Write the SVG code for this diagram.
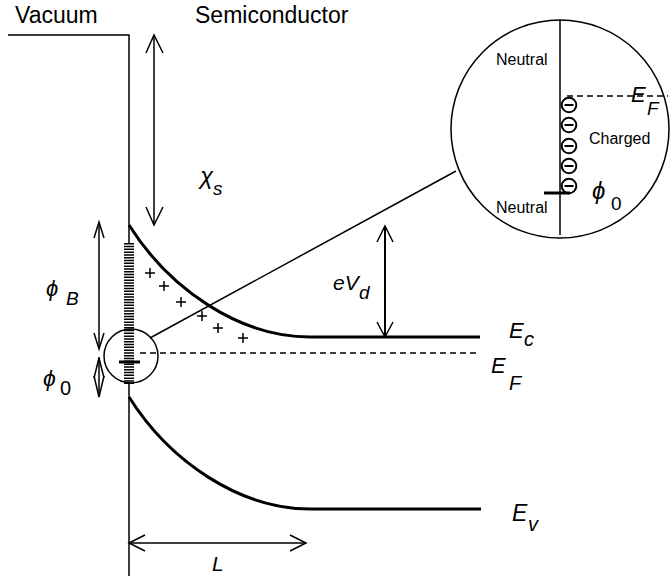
<svg xmlns="http://www.w3.org/2000/svg" width="670" height="576" viewBox="0 0 670 576">
<style>
.t{font-family:"Liberation Sans",Arial,sans-serif;fill:#000}
.g{font-family:"Liberation Sans","DejaVu Sans",sans-serif;font-style:italic;fill:#000}
.i{font-style:italic}
.thin{stroke:#000;stroke-width:1.5;fill:none}
.thick{stroke:#000;stroke-width:3;fill:none}
.dash{stroke:#000;stroke-width:1.5;stroke-dasharray:6 4;fill:none}
.ah{stroke:#000;stroke-width:1.5;fill:none}
.plus{stroke:#000;stroke-width:1.5}
</style>
<rect width="670" height="576" fill="#fff"/>
<g id="labels-top">
<text class="t" x="15" y="23" font-size="23">Vacuum</text>
<text class="t" x="195" y="23" font-size="23">Semiconductor</text>
</g>
<g id="surface">
<polyline class="thin" points="8,35 129,35 129,576"/>
<rect x="124" y="243" width="10" height="141" fill="#fff"/>
<line x1="129" y1="243" x2="129" y2="384" stroke="#000" stroke-width="10" stroke-dasharray="1.5 1.3"/>
<line x1="119" y1="362" x2="140" y2="362" stroke="#000" stroke-width="3"/>
<circle class="thin" cx="131" cy="356" r="27"/>
</g>
<g id="bands">
<path id="Ec" class="thick" d="M129,225 C170,290 240,337 310,337 L480,337"/>
<path id="Ev" class="thick" d="M129,397 C170,462 240,509 310,509 L481,509"/>
<line id="EF" class="dash" x1="140" y1="353" x2="480" y2="353"/>
<text class="t i" x="509" y="338" font-size="22">E</text>
<text class="t i" x="524" y="346" font-size="20">c</text>
<text class="t i" x="491" y="373" font-size="22">E</text>
<text class="t i" x="509" y="390" font-size="20">F</text>
<text class="t i" x="512" y="521" font-size="23">E</text>
<text class="t i" x="528" y="531" font-size="20">v</text>
</g>
<g id="charges" class="plus">
<path d="M145,273 h10 M150,268 v10"/>
<path d="M159,286 h10 M164,281 v10"/>
<path d="M176,302 h10 M181,297 v10"/>
<path d="M197,316 h10 M202,311 v10"/>
<path d="M213,328 h10 M218,323 v10"/>
<path d="M238,338 h10 M243,333 v10"/>
</g>
<g id="connectors">
<line class="thin" x1="150" y1="338" x2="456" y2="171"/>
<line class="thin" x1="154" y1="36" x2="154" y2="224"/>
<polyline class="ah" points="146,53 154,35 163,53"/>
<polyline class="ah" points="146,207 154,225 163,207"/>
<line class="thin" x1="99" y1="223" x2="99" y2="347"/>
<polyline class="ah" points="94,238 99,222 104,238"/>
<polyline class="ah" points="94,333 99,349 104,333"/>
<line class="thin" x1="99" y1="357" x2="99" y2="397"/>
<polyline class="ah" points="94,378 99,358 104,378"/>
<polyline class="ah" points="94,376 99,397 104,376"/>
<line x1="385" y1="227" x2="385" y2="337" stroke="#000" stroke-width="2"/>
<polyline class="ah" points="377,242 385,226 393,242" stroke-width="2"/>
<polyline class="ah" points="377,322 385,337 393,322" stroke-width="2"/>
<line class="thin" x1="129" y1="543" x2="306" y2="543"/>
<polyline class="ah" points="145,535 129,543 145,551"/>
<polyline class="ah" points="290,535 306,543 290,551"/>
</g>
<g id="math-labels">
<text class="t i" x="200" y="184" font-size="24">χ</text>
<text class="t i" x="213" y="195" font-size="19">s</text>
<text class="g" x="46" y="296" font-size="22">ϕ</text>
<text class="t i" x="66" y="305" font-size="19">B</text>
<text class="g" x="43" y="386" font-size="23">ϕ</text>
<text class="t" x="60" y="395" font-size="20">0</text>
<text class="t i" x="333" y="290" font-size="21">eV</text>
<text class="t i" x="359" y="299" font-size="19">d</text>
<text class="t i" x="212" y="571" font-size="21">L</text>
</g>
<g id="inset">
<circle class="thin" cx="560" cy="129" r="109"/>
<line class="thin" x1="560" y1="20" x2="560" y2="235"/>
<line class="dash" x1="567" y1="96" x2="668" y2="96"/>
<g stroke="#000" stroke-width="2" fill="none">
<circle cx="569" cy="105" r="7.3"/><line x1="564.5" y1="105" x2="573.5" y2="105"/>
<circle cx="569" cy="125" r="7.3"/><line x1="564.5" y1="125" x2="573.5" y2="125"/>
<circle cx="569" cy="146" r="7.3"/><line x1="564.5" y1="146" x2="573.5" y2="146"/>
<circle cx="569" cy="166" r="7.3"/><line x1="564.5" y1="166" x2="573.5" y2="166"/>
<circle cx="569" cy="186" r="7.3"/><line x1="564.5" y1="186" x2="573.5" y2="186"/>
</g>
<line x1="544" y1="193" x2="570" y2="193" stroke="#000" stroke-width="3"/>
<text class="t" x="496" y="65" font-size="16">Neutral</text>
<text class="t" x="496" y="213" font-size="16">Neutral</text>
<text class="t" x="589" y="144" font-size="16">Charged</text>
<text class="t i" x="631" y="102" font-size="22">E</text>
<text class="t i" x="647" y="115" font-size="19">F</text>
<text class="g" x="592" y="199" font-size="24">ϕ</text>
<text class="t" x="611" y="210" font-size="19">0</text>
</g>
</svg>
